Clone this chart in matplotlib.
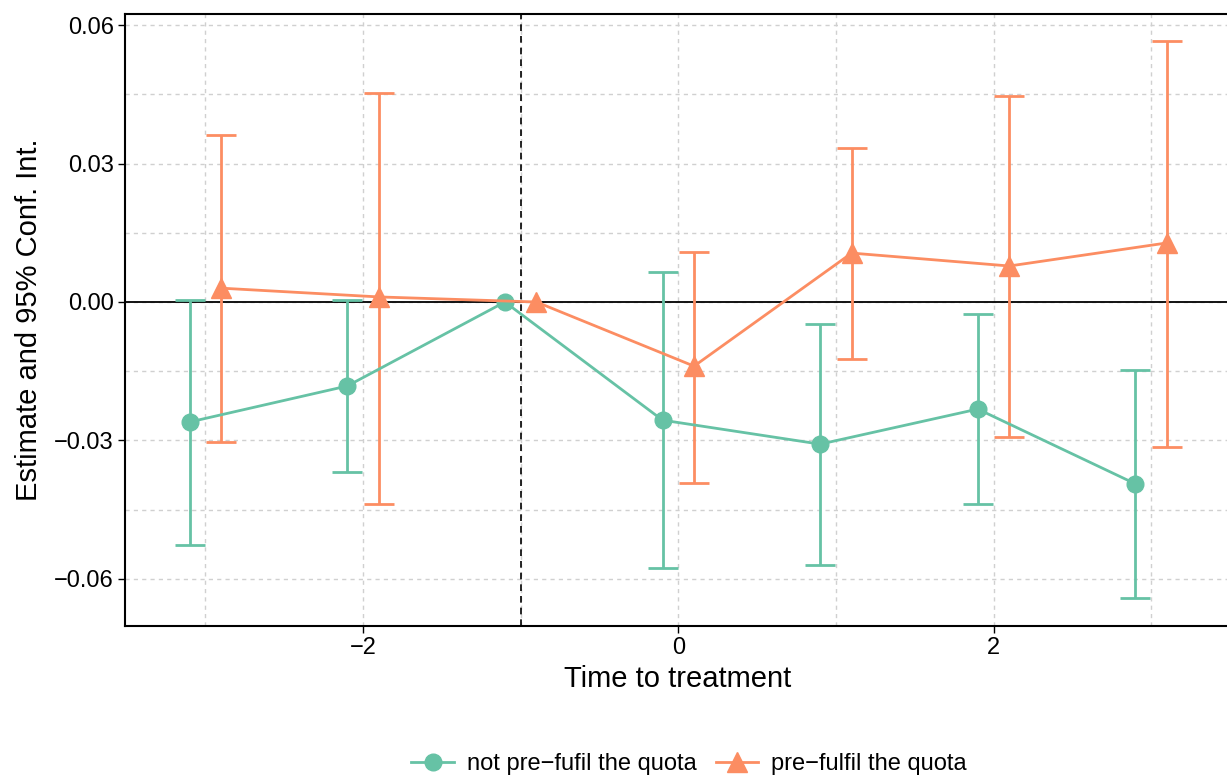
import numpy as np
import matplotlib.pyplot as plt
from matplotlib.ticker import MultipleLocator

plt.rcParams['font.family'] = ['Liberation Sans', 'DejaVu Sans']

# event time
periods = [-3, -2, -1, 0, 1, 2, 3]

# not pre-fufil the quota
est_not = [-0.0260, -0.0182, 0.0, -0.0256, -0.0308, -0.0232, -0.0394]
lo_not = [-0.0526, -0.0368, 0.0, -0.0576, -0.0570, -0.0438, -0.0641]
hi_not = [0.0004, 0.0004, 0.0, 0.0065, -0.0048, -0.0026, -0.0147]

# pre-fulfil the quota
est_pre = [0.0030, 0.0011, 0.0, -0.0139, 0.0106, 0.0078, 0.0128]
lo_pre = [-0.0303, -0.0438, 0.0, -0.0392, -0.0123, -0.0292, -0.0314]
hi_pre = [0.0362, 0.0453, 0.0, 0.0108, 0.0334, 0.0446, 0.0565]

green = "#66c2a5"
orange = "#fc8d62"

fig = plt.figure(figsize=(12.27, 7.76), dpi=100)
ax = fig.add_axes([125 / 1227, 1 - 626 / 776, (1230 - 125) / 1227, (626 - 14) / 776])

x = np.array(periods, dtype=float)

def draw(xs, est, lo, hi, color, marker, ms, label):
    est = np.array(est)
    yerr = [est - np.array(lo), np.array(hi) - est]
    keep = np.array(hi) != np.array(lo)
    ax.errorbar(xs[keep], est[keep], yerr=[yerr[0][keep], yerr[1][keep]], fmt="none",
                ecolor=color, elinewidth=2, capsize=11, capthick=2, zorder=3)
    ax.plot(xs, est, color=color, lw=2, marker=marker, ms=ms, label=label, zorder=4)

draw(x - 0.1, est_not, lo_not, hi_not, green, "o", 12, "not pre\u2212fufil the quota")
draw(x + 0.1, est_pre, lo_pre, hi_pre, orange, "^", 14, "pre\u2212fulfil the quota")

ax.axhline(0, color="black", lw=1.3, zorder=2)
ax.axvline(-1, color="black", lw=1.2, ls=(0, (4, 3)), zorder=2)

ax.set_xlim(-3.51, 3.5)
ax.set_ylim(-0.0702, 0.0624)
ax.xaxis.set_major_locator(MultipleLocator(2))
ax.xaxis.set_minor_locator(MultipleLocator(1))
ax.yaxis.set_major_locator(MultipleLocator(0.03))
ax.yaxis.set_minor_locator(MultipleLocator(0.015))
ax.yaxis.set_major_formatter(lambda v, p: f"{v:.2f}".replace("-", "\u2212") if abs(v) > 1e-9 else "0.00")
ax.xaxis.set_major_formatter(lambda v, p: f"{v:.0f}".replace("-", "\u2212"))

ax.grid(True, which="both", color="#d0d0d0", ls=(0, (3, 3)), lw=1)
ax.set_axisbelow(True)
ax.tick_params(which="minor", length=0)
ax.tick_params(which="major", labelsize=17, length=5, width=1, colors="black", pad=3)

for s in ["left", "bottom", "top"]:
    ax.spines[s].set_linewidth(1.5)
ax.spines["right"].set_visible(False)

ax.set_xlabel("Time to treatment", fontsize=21, labelpad=4)
ax.set_ylabel("Estimate and 95% Conf. Int.", fontsize=21, labelpad=8)

fig.legend(loc="center", bbox_to_anchor=(689 / 1227, 1 - 764 / 776), ncol=2, frameon=False,
           fontsize=17, handlelength=1.8, columnspacing=0.8, handletextpad=0.55)

fig.savefig("out.png", dpi=100)
